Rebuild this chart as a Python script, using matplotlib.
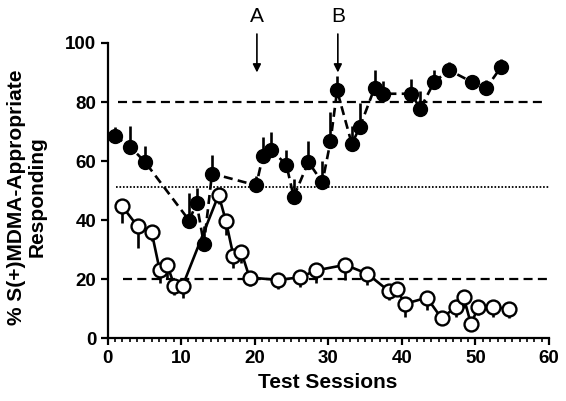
import matplotlib
matplotlib.use("Agg")
import matplotlib.pyplot as plt
from matplotlib.ticker import MultipleLocator

plt.rcParams['font.family'] = ['Liberation Sans', 'DejaVu Sans']
plt.rcParams['lines.scale_dashes'] = False

# Filled circles (dashed line), error bars upward
filled_x = [1.0, 3.1, 5.1, 11.1, 12.1, 13.1, 14.2, 20.2, 21.1, 22.2, 24.3, 25.3, 27.3, 29.2,
            30.3, 31.2, 33.2, 34.3, 36.3, 37.4, 41.3, 42.5, 44.4, 46.4, 49.5, 51.5, 53.5]
filled_y = [68.6, 64.8, 59.7, 39.9, 45.8, 31.9, 55.8, 51.8, 61.6, 63.9, 58.8, 47.9, 59.7, 52.8,
            66.7, 83.9, 65.8, 71.6, 84.8, 82.8, 82.8, 77.7, 86.8, 90.8, 86.8, 84.8, 91.9]
filled_err = [3, 7, 5.3, 9.3, 5, 6, 6.4, 3, 6.4, 6, 5, 5.9, 7.2, 7.1,
              10, 4.9, 6, 8.1, 6.2, 4.3, 5.1, 6, 4, 2.8, 1, 2.8, 2.7]

# Open circles (solid line), error bars downward
open_x = [2.0, 4.1, 6.0, 7.1, 8.1, 9.1, 10.2, 15.1, 16.1, 17.1, 18.2, 19.3, 23.2, 26.2,
          28.3, 32.3, 35.3, 38.3, 39.3, 40.4, 43.4, 45.4, 47.3, 48.4, 49.4, 50.4, 52.4, 54.5]
open_y = [44.7, 37.9, 35.9, 23.0, 24.9, 17.8, 17.8, 48.6, 39.6, 28.0, 29.1, 20.6, 19.8, 20.7,
          23.0, 24.9, 21.9, 15.9, 16.8, 11.7, 13.8, 6.8, 10.6, 14.0, 4.8, 10.8, 10.8, 9.9]
open_err = [5.6, 7.3, 3, 4.3, 4.5, 3, 4.2, 3, 4.5, 4.2, 3.6, 3, 3.2, 3.2,
            4.3, 5, 3.7, 2.8, 2.5, 4.3, 4.2, 0, 3.2, 3.7, 0, 2.8, 3.4, 3]

ref_high = 80
ref_low = 20.2
ref_mid = 51.2
arrow_labels = ['A', 'B']
arrow_x = [20.3, 31.3]

x_ticks = [0, 10, 20, 30, 40, 50, 60]
y_ticks = [0, 20, 40, 60, 80, 100]

fig = plt.figure(figsize=(5.66, 4.01), dpi=100)
ax = fig.add_axes([0.190, 0.156, 0.780, 0.737])

# reference lines
ax.plot([1.4, 59], [ref_high, ref_high], color='black', lw=1.6, dashes=(6.5, 3.8), zorder=1)
ax.plot([2.1, 60], [ref_low, ref_low], color='black', lw=1.6, dashes=(6.5, 3.8), zorder=1)
ax.plot([1.2, 60], [ref_mid, ref_mid], color='black', lw=1.3, dashes=(1.2, 1.3), zorder=1)

# error bars
ax.vlines(filled_x, filled_y, [y + e for y, e in zip(filled_y, filled_err)],
          color='black', lw=1.9, zorder=2)
ax.vlines(open_x, [y - e for y, e in zip(open_y, open_err)], open_y,
          color='black', lw=1.9, zorder=2)

ax.plot(filled_x, filled_y, color='black', lw=1.9, dashes=(6.5, 3.8), marker='o',
        markersize=10, markerfacecolor='black', markeredgecolor='black', zorder=3)
ax.plot(open_x, open_y, color='black', lw=1.9, linestyle='-', marker='o',
        markersize=10, markerfacecolor='white', markeredgecolor='black', markeredgewidth=1.7,
        zorder=4)

ax.set_xlim(0, 60)
ax.set_ylim(0, 100)
ax.set_xticks(x_ticks)
ax.set_yticks(y_ticks)
ax.xaxis.set_minor_locator(MultipleLocator(1))
for s in ['top', 'right']:
    ax.spines[s].set_visible(False)
for s in ['left', 'bottom']:
    ax.spines[s].set_linewidth(1.6)
ax.tick_params(which='major', length=5, width=1.6, direction='out', labelsize=13.5, pad=3)
ax.tick_params(which='minor', length=3, width=1.2, direction='out')
for lab in ax.get_xticklabels() + ax.get_yticklabels():
    lab.set_fontweight('bold')

for lab, xv in zip(arrow_labels, arrow_x):
    ax.annotate('', xy=(xv, 90), xytext=(xv, 103), annotation_clip=False,
                arrowprops=dict(arrowstyle='-|>', color='black', lw=1.2,
                                mutation_scale=12, shrinkA=0, shrinkB=0))
    ax.text(xv, 109, lab, ha='center', va='center', fontsize=15, clip_on=False)

fig.text(328 / 566, 1 - 383 / 401, 'Test Sessions', ha='center', va='center',
         fontsize=15, fontweight='bold')
fig.text(27 / 566, 1 - 197 / 401, '% S(+)MDMA-Appropriate\nResponding', ha='center',
         va='center', rotation=90, fontsize=15, fontweight='bold', multialignment='center',
         linespacing=1.1)

fig.savefig('out.png', dpi=100)
